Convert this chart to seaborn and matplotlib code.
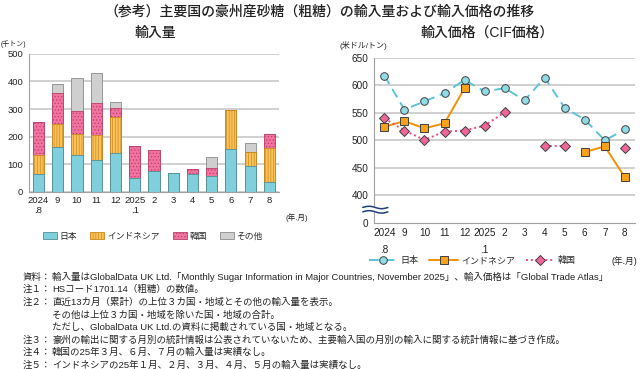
import numpy as np
import pandas as pd
import matplotlib
matplotlib.use('Agg')
import matplotlib.pyplot as plt
from matplotlib.lines import Line2D
from matplotlib.patches import Patch
import seaborn as sns

nan = np.nan

months = ['2024\n.8', '9', '10', '11', '12', '2025\n.1', '2', '3', '4', '5',
          '6', '7', '8']

# import volume, thousand tonnes (stack segments)
vol_japan = [65, 161, 132, 114, 140, 50, 77, 67, 65, 59, 156, 92, 37]
vol_indonesia = [69, 84, 79, 93, 132, 0, 0, 0, 0, 0, 141, 52, 123]
vol_korea = [120, 115, 81, 115, 31, 115, 74, 0, 19, 29, 0, 0, 51]
vol_other = [0, 31, 120, 110, 23, 0, 0, 0, 0, 37, 0, 34, 0]

# CIF price, USD / tonne
price_japan = [618, 556, 571, 586, 610, 589, 595, 573, 614, 559, 538, 500, 520]
price_indonesia = [525, 535, 522, 531, 595, nan, nan, nan, nan, nan, 479, 489, 433]
price_korea = [540, 518, 501, 516, 518, 527, 551, nan, 490, 490, nan, nan, 486]

names = ['日本', 'インドネシア', '韓国', 'その他']

title = '（参考）主要国の豪州産砂糖（粗糖）の輸入量および輸入価格の推移'
notes = [
    ('資料：', '輸入量はGlobalData UK Ltd.「Monthly Sugar Information in Major Countries, November 2025」、輸入価格は「Global Trade Atlas」'),
    ('注１：', 'HSコード1701.14（粗糖）の数値。'),
    ('注２：', '直近13カ月（累計）の上位３カ国・地域とその他の輸入量を表示。'),
    ('', 'その他は上位３カ国・地域を除いた国・地域の合計。'),
    ('', 'ただし、GlobalData UK Ltd.の資料に掲載されている国・地域となる。'),
    ('注３：', '豪州の輸出に関する月別の統計情報は公表されていないため、主要輸入国の月別の輸入に関する統計情報に基づき作成。'),
    ('注４：', '韓国の25年３月、６月、７月の輸入量は実績なし。'),
    ('注５：', 'インドネシアの25年１月、２月、３月、４月、５月の輸入量は実績なし。'),
]

sns.set_style('white')
plt.rcParams['font.family'] = ['Liberation Sans', 'Noto Sans CJK JP', 'DejaVu Sans']
plt.rcParams['hatch.linewidth'] = 0.5

fig = plt.figure(figsize=(6.4, 3.69), dpi=100)
ax1 = fig.add_axes([0.045, 0.480, 0.391, 0.374])
ax2 = fig.add_axes([0.584, 0.396, 0.408, 0.447])

grid_c = '#c8c8c8'
spine_c = '#a0a0a0'
text_c = '#222222'

# ---- left: stacked bars (draw cumulative totals, largest first)
bar_styles = [
    ('#7fd0dc', '#4f8f99', None),
    ('#fcc25a', '#c98a1c', '||||||'),
    ('#f2739f', '#b8406a', '.....'),
    ('#cfcfcf', '#8a8a8a', None),
]
layers = [np.array(vol_japan), np.array(vol_indonesia),
          np.array(vol_korea), np.array(vol_other)]
cums = np.cumsum(layers, axis=0)
pos = list(range(len(months)))
for i in range(len(layers) - 1, -1, -1):
    face, edge, hatch = bar_styles[i]
    sns.barplot(x=pos, y=cums[i], color=face, saturation=1, width=0.58,
                edgecolor=edge, linewidth=0.6, hatch=hatch, errorbar=None,
                ax=ax1)

ax1.set_xlim(-0.5, 12.5)
ax1.set_ylim(0, 500)
ax1.set_yticks(range(0, 501, 100))
ax1.yaxis.grid(True, color=grid_c, linewidth=1.2)
ax1.set_axisbelow(True)
ax1.set_xticks(pos)
ax1.set_xticklabels(months, fontsize=6.8, linespacing=1.1, color=text_c)
ax1.tick_params(axis='y', labelsize=6.8, colors=text_c, length=2, color=spine_c, pad=2)
ax1.tick_params(axis='x', length=0, pad=3)
ax1.set_xticks(np.arange(-0.5, 12.6, 1), minor=True)
ax1.tick_params(axis='x', which='minor', length=3, color=spine_c)
for s in ['top', 'right']:
    ax1.spines[s].set_visible(False)
for s in ['left', 'bottom']:
    ax1.spines[s].set_color(spine_c)
    ax1.spines[s].set_linewidth(0.8)
ax1.set_xlabel('')
ax1.set_ylabel('')

bar_handles = [Patch(facecolor=f, edgecolor=e, hatch=h, linewidth=0.6)
               for f, e, h in bar_styles]
fig.legend(bar_handles, names, loc='center', bbox_to_anchor=(153 / 640, 1 - 236 / 369),
           ncol=4, frameon=False, fontsize=6.3, handlelength=1.6, handleheight=1.0,
           handletextpad=0.3, columnspacing=1.5)

# ---- right: price lines with gaps
def segments(vals):
    seg, out, prev = 0, [], False
    for v in vals:
        ok = not np.isnan(v)
        if ok and not prev:
            seg += 1
        out.append(seg if ok else nan)
        prev = ok
    return out

line_styles = [
    (price_japan, '#5cc3d6', '#8fdbe6', (0, (5, 3)), 'o', 5.5),
    (price_indonesia, '#f29100', '#f7a21b', '-', 's', 5.5),
    (price_korea, '#e84a84', '#f0659a', (0, (1, 1.5)), 'D', 5),
]
line_handles = []
for vals, lc, mc, ls, mk, ms in line_styles:
    df = pd.DataFrame({'pos': pos, 'price': vals, 'seg': segments(vals)}).dropna()
    sns.lineplot(data=df, x='pos', y='price', units='seg', estimator=None,
                 color=lc, linestyle=ls, linewidth=1.4, marker=mk, markersize=ms,
                 markerfacecolor=mc, markeredgecolor='#404040', markeredgewidth=0.7,
                 legend=False, ax=ax2)
    line_handles.append(Line2D([], [], color=lc, linestyle=ls, linewidth=1.4, marker=mk,
                               markersize=ms, markerfacecolor=mc,
                               markeredgecolor='#404040', markeredgewidth=0.7))

ax2.set_xlim(-0.53, 12.5)
ax2.set_ylim(350, 650)
ax2.set_yticks([350, 400, 450, 500, 550, 600, 650])
ax2.set_yticklabels(['0', '400', '450', '500', '550', '600', '650'])
ax2.yaxis.grid(True, color=grid_c, linewidth=1.2)
for gl, t in zip(ax2.yaxis.get_gridlines(), ax2.get_yticks()):
    if t == 350:
        gl.set_visible(False)
ax2.set_axisbelow(True)
ax2.set_xticks(pos)
ax2.set_xticklabels(months, fontsize=7.2, linespacing=1.8, color=text_c)
ax2.tick_params(axis='y', labelsize=7.2, colors=text_c, length=2, color=spine_c, pad=2)
ax2.tick_params(axis='x', length=0, pad=4)
ax2.set_xticks(np.arange(-0.5, 12.6, 1), minor=True)
ax2.tick_params(axis='x', which='minor', length=3, color=spine_c)
for s in ['top', 'right']:
    ax2.spines[s].set_visible(False)
for s in ['left', 'bottom']:
    ax2.spines[s].set_color(spine_c)
    ax2.spines[s].set_linewidth(0.8)
ax2.set_xlabel('')
ax2.set_ylabel('')

# axis break mark
trans = matplotlib.transforms.blended_transform_factory(ax2.transAxes, ax2.transData)
wx = np.linspace(-0.042, 0.054, 60)
wave = 2.2 * np.sin((wx + 0.042) / 0.096 * 2 * np.pi)
ax2.fill_between(wx, 370 + wave, 378 + wave, color='white', transform=trans,
                 clip_on=False, zorder=5)
ax2.plot(wx, 370 + wave, color='#1f3f7a', lw=1.1, transform=trans, clip_on=False, zorder=6)
ax2.plot(wx, 378 + wave, color='#1f3f7a', lw=1.1, transform=trans, clip_on=False, zorder=6)

fig.legend(line_handles, names[:3], loc='center', bbox_to_anchor=(472 / 640, 1 - 261 / 369),
           ncol=3, frameon=False, fontsize=6.5, handlelength=3.2,
           handletextpad=0.3, columnspacing=1.2)

# ---- texts
fig.text(0.5, 1 - 12 / 369, title, ha='center', va='center', fontsize=10,
         fontweight='medium', color=text_c)
fig.text(155 / 640, 1 - 33 / 369, '輸入量', ha='center', va='center', fontsize=10,
         fontweight='medium', color=text_c)
fig.text(487 / 640, 1 - 33 / 369, '輸入価格（CIF価格）', ha='center', va='center',
         fontsize=10, fontweight='medium', color=text_c)
fig.text(1 / 640, 1 - 44 / 369, '(千トン)', ha='left', va='center', fontsize=5,
         color=text_c)
fig.text(340 / 640, 1 - 45 / 369, '(米ドル/トン)', ha='left', va='center', fontsize=5.8,
         color=text_c)
fig.text(297 / 640, 1 - 218 / 369, '(年.月)', ha='center', va='center', fontsize=5.5,
         color=text_c)
fig.text(637 / 640, 1 - 261 / 369, '(年.月)', ha='right', va='center', fontsize=6.3,
         color=text_c)

y = 277
for head, body in notes:
    if head:
        fig.text(23 / 640, 1 - y / 369, head, ha='left', va='center', fontsize=6.8,
                 color=text_c)
    fig.text(52 / 640, 1 - y / 369, body, ha='left', va='center', fontsize=6.8,
             color=text_c)
    y += 12.6

fig.savefig('out.png', dpi=100)
